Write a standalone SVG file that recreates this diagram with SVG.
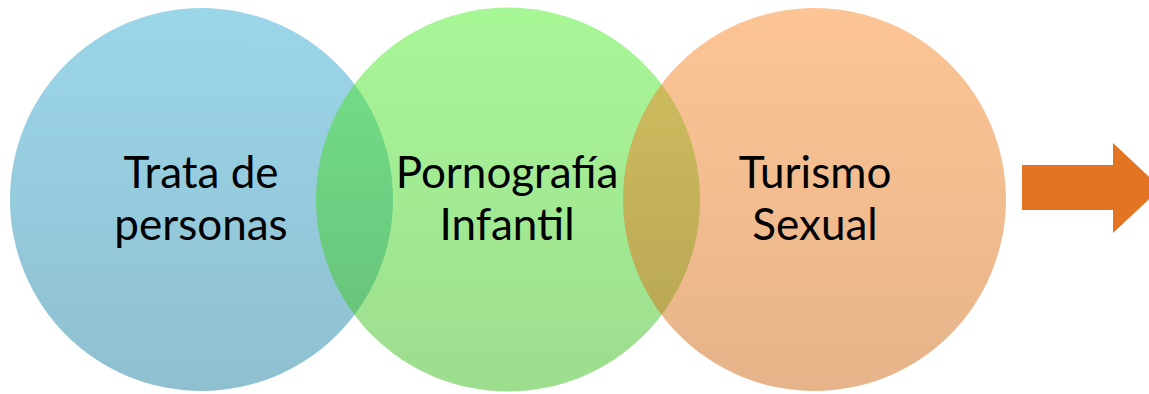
<svg xmlns="http://www.w3.org/2000/svg" width="1149" height="394" viewBox="0 0 1149 394">
<defs>
<linearGradient id="gb" x1="0" y1="0" x2="0" y2="1"><stop offset="0" stop-color="#37aed3"/><stop offset="1" stop-color="#1f81a1"/></linearGradient>
<linearGradient id="gg" x1="0" y1="0" x2="0" y2="1"><stop offset="0" stop-color="#51ef2f"/><stop offset="1" stop-color="#3bbb1f"/></linearGradient>
<linearGradient id="go" x1="0" y1="0" x2="0" y2="1"><stop offset="0" stop-color="#fb8b2b"/><stop offset="1" stop-color="#cd6915"/></linearGradient>
<style>
.c{fill-opacity:0.5}
.t{font-family:Lato,"Liberation Sans",sans-serif;font-size:44px;fill:#000;text-anchor:middle}
</style>
</defs>
<g id="n1"><circle class="c" cx="201.5" cy="199.5" r="191.5" fill="url(#gb)"/></g>
<g id="n2"><circle class="c" cx="508" cy="199.5" r="192" fill="url(#gg)"/></g>
<g id="n3"><circle class="c" cx="814.5" cy="199.5" r="191.5" fill="url(#go)"/></g>
<g id="l1"><text class="t" x="201" y="188">Trata de</text><text class="t" x="201" y="240">personas</text></g>
<g id="l2"><text class="t" x="507" y="188">Pornografía</text><text class="t" x="507" y="240">Infantil</text></g>
<g id="l3"><text class="t" x="815" y="188">Turismo</text><text class="t" x="815" y="240">Sexual</text></g>
<g id="connectors"><polygon points="1022,165 1113,165 1113,143 1161,188 1113,233 1113,210 1022,210" fill="#e37522"/></g>
</svg>
